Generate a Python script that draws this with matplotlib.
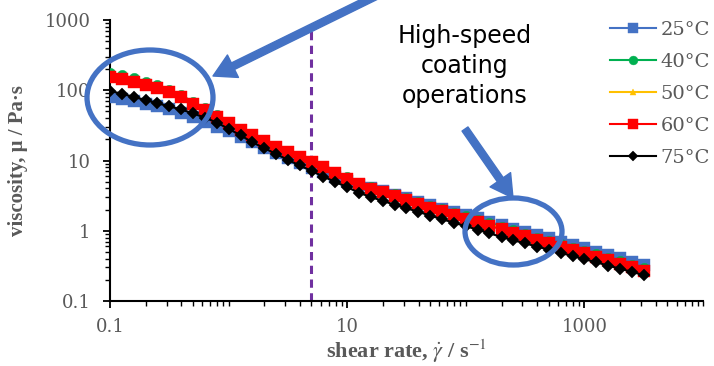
import numpy as np
import matplotlib
matplotlib.use('Agg')
import matplotlib.pyplot as plt
import matplotlib.ticker as ticker
from matplotlib.patches import Ellipse

plt.rcParams['mathtext.fontset'] = 'stix'

# shear rate sweep, 10 points per decade
shear_rate = [0.1, 0.126, 0.158, 0.2, 0.251, 0.316, 0.398, 0.501, 0.631, 0.794,
              1, 1.26, 1.58, 2.0, 2.51, 3.16, 3.98, 5.01, 6.31, 7.94,
              10, 12.6, 15.8, 20, 25.1, 31.6, 39.8, 50.1, 63.1, 79.4,
              100, 126, 158, 200, 251, 316, 398, 501, 631, 794,
              1000, 1260, 1580, 2000, 2510, 3160]

# viscosity (Pa.s) at each temperature
visc_25 = [80.4, 75.0, 70.0, 64.6, 58.9, 53.7, 47.9, 41.7, 35.9, 30.2,
           26.3, 21.9, 18.2, 15.1, 12.6, 10.7, 9.12, 7.85, 6.76, 5.89,
           5.13, 4.52, 4.07, 3.63, 3.24, 2.88, 2.57, 2.29, 2.07, 1.84,
           1.66, 1.50, 1.33, 1.20, 1.07, 0.966, 0.861, 0.776, 0.692, 0.624,
           0.562, 0.501, 0.452, 0.407, 0.363, 0.327]
visc_40 = [175, 163, 148, 133, 117, 101, 85, 68.5, 55, 44,
           35, 28.3, 23.5, 19.3, 16.0, 13.4, 11.4, 9.75, 8.35, 6.9,
           5.78, 4.82, 4.22, 3.73, 3.3, 2.92, 2.58, 2.28, 2.03, 1.8,
           1.6, 1.43, 1.27, 1.14, 1.01, 0.90, 0.80, 0.722, 0.645, 0.574,
           0.518, 0.462, 0.411, 0.367, 0.327, 0.292]
visc_50 = [162, 151, 138, 125, 111, 97, 82, 67, 54, 43.5,
           34.8, 28.2, 23.4, 19.2, 15.8, 13.3, 11.3, 9.6, 8.2, 6.75,
           5.62, 4.68, 4.08, 3.6, 3.18, 2.8, 2.48, 2.19, 1.95, 1.73,
           1.54, 1.38, 1.22, 1.10, 0.975, 0.87, 0.775, 0.70, 0.625, 0.556,
           0.502, 0.448, 0.399, 0.356, 0.317, 0.283]
visc_60 = [155, 145, 132, 120, 107, 93.3, 79.4, 64.6, 52.5, 42.2,
           33.9, 27.5, 22.9, 18.8, 15.5, 13.0, 11.1, 9.44, 8.04, 6.61,
           5.50, 4.57, 3.98, 3.51, 3.09, 2.72, 2.40, 2.11, 1.88, 1.66,
           1.48, 1.32, 1.17, 1.05, 0.933, 0.832, 0.741, 0.668, 0.596, 0.531,
           0.479, 0.427, 0.380, 0.339, 0.302, 0.269]
visc_75 = [97.7, 89.1, 80.4, 72.4, 65.3, 58.9, 53.3, 46.8, 40.7, 34.7,
           28.2, 22.9, 18.2, 15.0, 12.4, 10.2, 8.51, 7.08, 5.89, 4.95,
           4.17, 3.47, 3.02, 2.66, 2.34, 2.09, 1.86, 1.64, 1.46, 1.30,
           1.16, 1.035, 0.923, 0.813, 0.733, 0.661, 0.596, 0.537, 0.484, 0.437,
           0.394, 0.355, 0.320, 0.288, 0.260, 0.234]

labels = ['25°C', '40°C', '50°C', '60°C', '75°C']
colors = ['#4472C4', '#00B050', '#FFC000', '#FF0000', '#000000']
markers = ['s', 'o', '^', 's', 'D']
msizes = [8.4, 7.5, 5.5, 8.4, 6.2]

W, H = 714, 366


def fpx(x, y):
    # pixel position measured from the top-left corner -> figure pixels
    return (x, H - y)


fig = plt.figure(figsize=(W / 100, H / 100), dpi=100)
ax = fig.add_axes([110 / W, 65 / H, 593 / W, 281 / H])

series = [visc_25, visc_40, visc_50, visc_60, visc_75]
for vals, lab, c, m, ms in zip(series, labels, colors, markers, msizes):
    ax.plot(shear_rate, vals, color=c, lw=1.5, marker=m, ms=ms,
            mec=c, mew=0.3, label=lab, zorder=3)

# boundary between low-shear and high-shear regimes
ax.vlines(5, 0.1, 800, colors='#7030A0', linestyles=(0, (2.7, 1.8)),
          lw=2.2, zorder=2)

ax.set_xscale('log')
ax.set_yscale('log')
ax.set_xlim(0.1, 10000)
ax.set_ylim(0.1, 1000)

fmt = ticker.FuncFormatter(lambda v, p: f'{v:g}')
ax.xaxis.set_major_locator(ticker.FixedLocator([0.1, 10, 1000]))
ax.xaxis.set_minor_locator(ticker.LogLocator(base=10, subs=np.arange(1, 10), numticks=30))
ax.xaxis.set_major_formatter(fmt)
ax.xaxis.set_minor_formatter(ticker.NullFormatter())
ax.yaxis.set_major_locator(ticker.LogLocator(base=10, numticks=10))
ax.yaxis.set_minor_locator(ticker.LogLocator(base=10, subs=np.arange(2, 10), numticks=30))
ax.yaxis.set_major_formatter(fmt)
ax.yaxis.set_minor_formatter(ticker.NullFormatter())

ax.tick_params(which='major', direction='out', length=5, width=1.3,
               labelsize=13, labelcolor='#595959')
ax.tick_params(which='minor', direction='out', length=3.5, width=1.0)
ax.tick_params(axis='x', which='major', pad=7)
ax.tick_params(axis='y', which='major', pad=9)
for lab in ax.get_xticklabels() + ax.get_yticklabels():
    lab.set_family('DejaVu Serif')

for s in ['top', 'right']:
    ax.spines[s].set_visible(False)
for s in ['left', 'bottom']:
    ax.spines[s].set_linewidth(1.5)
    ax.spines[s].set_color('black')

ax.set_xlabel(r'shear rate, $\dot{\gamma}$ / s$^{-1}$', family='Liberation Serif',
              fontweight='bold', fontsize=16, color='#595959', labelpad=1)
ax.set_ylabel('viscosity, μ / Pa·s', family='Liberation Serif',
              fontweight='bold', fontsize=15, color='#595959', labelpad=12)

leg = ax.legend(loc='upper left', bbox_to_anchor=(600 / W, 1 - 11 / H),
                bbox_transform=fig.transFigure, frameon=False, borderpad=0,
                handlelength=2.4, handletextpad=0.2, labelspacing=0.72,
                markerscale=0.85,
                prop={'family': 'DejaVu Serif', 'size': 14})
for t in leg.get_texts():
    t.set_color('#595959')

# highlight ellipses and arrows
blue = '#4472C4'
fig.patches.append(Ellipse((150 / W, 1 - 97.5 / H), 126 / W, 95 / H,
                           transform=fig.transFigure, fill=False,
                           ec=blue, lw=3.8, zorder=5))
fig.patches.append(Ellipse((513.5 / W, 1 - 231.5 / H), 97 / W, 67 / H,
                           transform=fig.transFigure, fill=False,
                           ec=blue, lw=3.8, zorder=5))

arrow = dict(arrowstyle='simple,head_length=0.8,head_width=0.9,tail_width=0.26',
             mutation_scale=20, fc=blue, ec=blue, shrinkA=0, shrinkB=0)
ax.annotate('', xy=fpx(213, 76), xytext=fpx(376, -4),
            xycoords='figure pixels', textcoords='figure pixels',
            arrowprops=arrow, annotation_clip=False, zorder=6)
ax.annotate('', xy=fpx(513, 198), xytext=fpx(465, 129),
            xycoords='figure pixels', textcoords='figure pixels',
            arrowprops=arrow, annotation_clip=False, zorder=6)

fig.text(465 / W, 1 - 66 / H, 'High-speed\ncoating\noperations',
         ha='center', va='center', family='DejaVu Sans', fontsize=17,
         linespacing=1.3, color='black')

fig.savefig('out.png', dpi=100)
